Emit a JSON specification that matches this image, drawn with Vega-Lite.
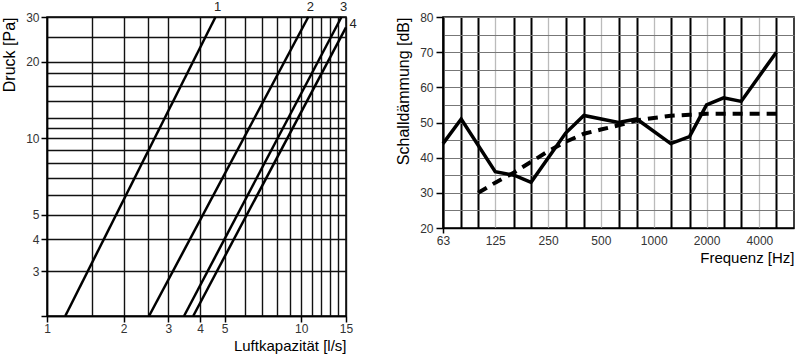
{
  "$schema": "https://vega.github.io/schema/vega-lite/v6.json",
  "padding": {"left": 0, "top": 0, "right": 2, "bottom": 0},
  "spacing": 97,
  "bounds": "flush",
  "background": "white",
  "config": {
    "font": "Liberation Sans",
    "view": {"stroke": "black", "strokeWidth": 1.5},
    "axis": {
      "labelFont": "Liberation Sans",
      "labelFontSize": 12,
      "labelColor": "#333",
      "titleFont": "Liberation Sans",
      "titleFontWeight": "normal",
      "titleColor": "black",
      "domainColor": "black",
      "domainWidth": 1.5,
      "tickColor": "black",
      "tickWidth": 1.5,
      "labelFlush": false,
      "labelOverlap": false,
      "gridOpacity": 1
    }
  },
  "datasets": {
    "curves": [
      {"curve": "1", "flow": 1.18, "pressure": 2},
      {"curve": "1", "flow": 4.6, "pressure": 30},
      {"curve": "2", "flow": 2.52, "pressure": 2},
      {"curve": "2", "flow": 10.66, "pressure": 30},
      {"curve": "3", "flow": 3.46, "pressure": 2},
      {"curve": "3", "flow": 14.4, "pressure": 30},
      {"curve": "4", "flow": 3.76, "pressure": 2},
      {"curve": "4", "flow": 15, "pressure": 27.3}
    ],
    "curvelabels": [
      {"label": "1", "flow": 4.6, "pressure": 30},
      {"label": "2", "flow": 10.66, "pressure": 30},
      {"label": "3", "flow": 14.4, "pressure": 30},
      {"label": "4", "flow": 15, "pressure": 27.3}
    ],
    "insulation": [
      {"series": "gemessen", "freq": 63, "db": 44},
      {"series": "gemessen", "freq": 80, "db": 51},
      {"series": "gemessen", "freq": 125, "db": 36},
      {"series": "gemessen", "freq": 160, "db": 35},
      {"series": "gemessen", "freq": 200, "db": 33},
      {"series": "gemessen", "freq": 315, "db": 47},
      {"series": "gemessen", "freq": 400, "db": 52},
      {"series": "gemessen", "freq": 630, "db": 50},
      {"series": "gemessen", "freq": 800, "db": 51},
      {"series": "gemessen", "freq": 1250, "db": 44},
      {"series": "gemessen", "freq": 1600, "db": 46},
      {"series": "gemessen", "freq": 2000, "db": 55},
      {"series": "gemessen", "freq": 2500, "db": 57},
      {"series": "gemessen", "freq": 3150, "db": 56},
      {"series": "gemessen", "freq": 5000, "db": 70},
      {"series": "Bezug", "freq": 100, "db": 30},
      {"series": "Bezug", "freq": 125, "db": 32.9},
      {"series": "Bezug", "freq": 160, "db": 35.8},
      {"series": "Bezug", "freq": 200, "db": 38.8},
      {"series": "Bezug", "freq": 250, "db": 41.8},
      {"series": "Bezug", "freq": 315, "db": 44.5},
      {"series": "Bezug", "freq": 400, "db": 46.8},
      {"series": "Bezug", "freq": 500, "db": 48},
      {"series": "Bezug", "freq": 630, "db": 49.2},
      {"series": "Bezug", "freq": 800, "db": 50.6},
      {"series": "Bezug", "freq": 1000, "db": 51.3},
      {"series": "Bezug", "freq": 1250, "db": 51.9},
      {"series": "Bezug", "freq": 1600, "db": 52.2},
      {"series": "Bezug", "freq": 2000, "db": 52.5},
      {"series": "Bezug", "freq": 2500, "db": 52.5},
      {"series": "Bezug", "freq": 3150, "db": 52.5},
      {"series": "Bezug", "freq": 4000, "db": 52.5},
      {"series": "Bezug", "freq": 5000, "db": 52.5}
    ]
  },
  "hconcat": [
    {
      "width": 299,
      "height": 299,
      "encoding": {
        "x": {
          "field": "flow",
          "type": "quantitative",
          "scale": {"type": "log", "domain": [1, 15], "nice": false},
          "axis": {
            "values": [1, 1.5, 2, 2.5, 3, 4, 5, 6, 7, 8, 9, 10, 11, 12, 13, 14, 15],
            "grid": true,
            "gridColor": "#111",
            "gridWidth": 1.4,
            "format": "~g",
            "labelExpr": "indexof([1,2,3,4,5,10,15], datum.value) >= 0 ? datum.label : ''",
            "tickOpacity": {"condition": {"test": "indexof([1,2,3,4,5,10,15], datum.value) >= 0", "value": 1}, "value": 0},
            "tickSize": 6,
            "labelPadding": 1,
            "title": "Luftkapazität [l/s]",
            "titleAnchor": "end",
            "titleFontSize": 15,
            "titlePadding": 4
          }
        },
        "y": {
          "field": "pressure",
          "type": "quantitative",
          "scale": {"type": "log", "domain": [2, 30], "nice": false},
          "axis": {
            "values": [2, 3, 4, 5, 6, 7, 8, 9, 10, 11, 12, 14, 16, 18, 20, 25, 30],
            "grid": true,
            "gridColor": "#111",
            "gridWidth": 1.4,
            "format": "~g",
            "labelExpr": "indexof([3,4,5,10,20,30], datum.value) >= 0 ? datum.label : ''",
            "tickOpacity": {"condition": {"test": "indexof([2,3,4,5,10,20,30], datum.value) >= 0", "value": 1}, "value": 0},
            "tickSize": 6,
            "labelPadding": 2,
            "title": "Druck [Pa]",
            "titleAnchor": "end",
            "titleFontSize": 16,
            "titlePadding": 8
          }
        }
      },
      "layer": [
        {
          "data": {"name": "curves"},
          "mark": {"type": "line", "color": "black", "strokeWidth": 2.5},
          "encoding": {"detail": {"field": "curve", "type": "nominal"}}
        },
        {
          "data": {"name": "curvelabels"},
          "transform": [{"filter": "datum.label != '4'"}],
          "mark": {"type": "text", "dy": -10, "dx": 2, "fontSize": 13, "color": "#222", "font": "Liberation Sans"},
          "encoding": {"text": {"field": "label", "type": "nominal"}}
        },
        {
          "data": {"name": "curvelabels"},
          "transform": [{"filter": "datum.label == '4'"}],
          "mark": {"type": "text", "dy": -3, "dx": 7, "fontSize": 13, "color": "#222", "font": "Liberation Sans"},
          "encoding": {"text": {"field": "label", "type": "nominal"}}
        }
      ]
    },
    {
      "width": 351,
      "height": 211,
      "data": {"name": "insulation"},
      "encoding": {
        "x": {
          "field": "freq",
          "type": "quantitative",
          "scale": {"type": "log", "domain": [63, 6300], "nice": false},
          "axis": {
            "values": [63, 80, 100, 125, 160, 200, 250, 315, 400, 500, 630, 800, 1000, 1250, 1600, 2000, 2500, 3150, 4000, 5000],
            "grid": true,
            "gridColor": {"condition": {"test": "indexof([125,250,500,1000,2000,4000], datum.value) >= 0", "value": "#bbbbbb"}, "value": "black"},
            "gridWidth": {"condition": {"test": "indexof([125,250,500,1000,2000,4000], datum.value) >= 0", "value": 1.3}, "value": 2},
            "format": "~g",
            "labelExpr": "indexof([63,125,250,500,1000,2000,4000], datum.value) >= 0 ? datum.label : ''",
            "tickOpacity": {"condition": {"test": "datum.value == 63", "value": 1}, "value": 0},
            "tickSize": 5,
            "labelPadding": 2,
            "labelDx": 4,
            "title": "Frequenz [Hz]",
            "titleAnchor": "end",
            "titleFontSize": 15,
            "titlePadding": 4
          }
        },
        "y": {
          "field": "db",
          "type": "quantitative",
          "scale": {"domain": [20, 80], "nice": false, "zero": false},
          "axis": {
            "values": [20, 25, 30, 35, 40, 45, 50, 55, 60, 65, 70, 75, 80],
            "grid": true,
            "gridColor": "#777",
            "gridWidth": 1,
            "labelExpr": "datum.value % 10 == 0 ? datum.label : ''",
            "tickOpacity": {"condition": {"test": "datum.value % 10 == 0", "value": 1}, "value": 0},
            "tickSize": 7,
            "labelPadding": 3,
            "title": "Schalldämmung [dB]",
            "titleAnchor": "end",
            "titleFontSize": 16,
            "titlePadding": 8
          }
        }
      },
      "layer": [
        {
          "transform": [{"filter": "datum.series == 'Bezug'"}],
          "mark": {"type": "line", "color": "black", "strokeWidth": 4, "strokeDash": [10, 7], "strokeCap": "butt"}
        },
        {
          "transform": [{"filter": "datum.series == 'gemessen'"}],
          "mark": {"type": "line", "color": "black", "strokeWidth": 3.5, "strokeJoin": "miter"}
        }
      ]
    }
  ]
}
